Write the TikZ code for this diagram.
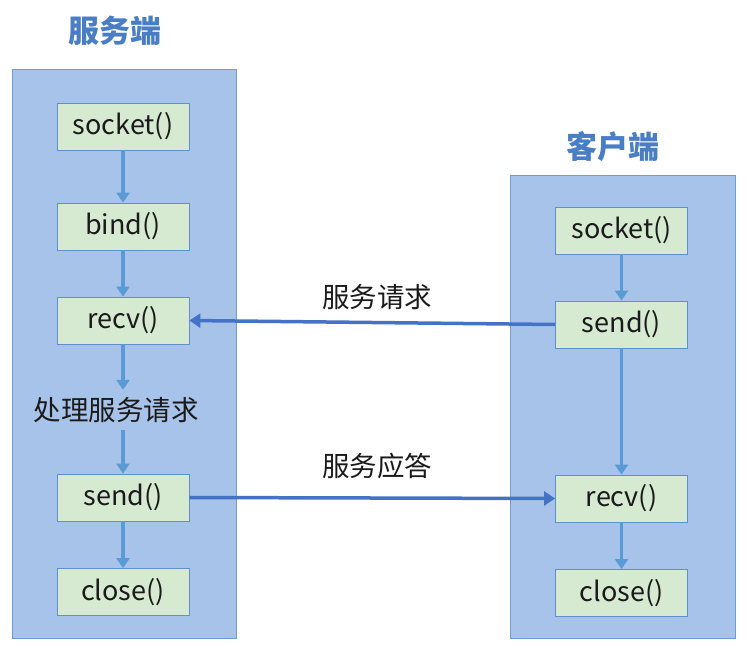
\documentclass[tikz,border=0pt]{standalone}
\usepackage{fontspec}
\setmainfont{Noto Sans CJK SC}
\usetikzlibrary{arrows.meta}
\definecolor{panelfill}{HTML}{A8C3EA}
\definecolor{paneldraw}{HTML}{6E9DD6}
\definecolor{boxfill}{HTML}{D6EAD2}
\definecolor{boxdraw}{HTML}{5E8FD0}
\definecolor{vline}{HTML}{5B9BD5}
\definecolor{hline}{HTML}{4472C4}
\definecolor{titlecol}{HTML}{4A7EC4}
\definecolor{txt}{HTML}{1A1A1A}
\tikzset{
  panel/.style={draw=paneldraw, fill=panelfill, line width=0.8pt},
  fn/.style={draw=boxdraw, fill=boxfill, line width=0.8pt, minimum width=132pt, minimum height=47pt, inner sep=0pt, font=\fontsize{27}{29}\selectfont, text=txt},
  title/.style={font=\fontsize{31}{33}\selectfont\bfseries, text=titlecol},
  lbl/.style={font=\fontsize{27.5}{29}\selectfont, text=txt},
  varrow/.style={draw=vline, line width=3.2pt, -{Triangle[length=10pt,width=13pt]}},
  harrow/.style={draw=hline, line width=3.5pt, -{Triangle[length=11pt,width=14pt]}}
}
\begin{document}
\begin{tikzpicture}[x=1pt,y=-1pt]
\useasboundingbox (0,0) rectangle (746,647);
\fill[white] (0,0) rectangle (746,647);
% panels
\node[panel, minimum width=224pt, minimum height=569pt, anchor=north west, inner sep=0pt] (spanel) at (12,69) {};
\node[panel, minimum width=225pt, minimum height=463pt, anchor=north west, inner sep=0pt] (cpanel) at (510,175) {};
\node[title] (stitle) at (115,31) {服务端};
\node[title] (ctitle) at (613,147) {客户端};
% server
\node[fn] (ssock) at (123,126.5) {socket()};
\node[fn] (sbind) at (123,226.5) {bind()};
\node[fn] (srecv) at (123,320.5) {recv()};
\node[lbl, inner sep=0pt, minimum height=40pt] (sproc) at (116,410) {处理服务请求};
\node[fn] (ssend) at (123,497.5) {send()};
\node[fn] (sclose) at (123,592) {close()};
% client
\node[fn] (csock) at (621.5,230.5) {socket()};
\node[fn] (csend) at (621.5,324.5) {send()};
\node[fn] (crecv) at (621.5,498.5) {recv()};
\node[fn] (cclose) at (621.5,593) {close()};
% vertical arrows
\draw[varrow] (ssock.south) -- (sbind.north);
\draw[varrow] (sbind.south) -- (srecv.north);
\draw[varrow] (srecv.south) -- (srecv.south |- sproc.north);
\draw[varrow] (ssend.north |- sproc.south) -- (ssend.north);
\draw[varrow] (ssend.south) -- (sclose.north);
\draw[varrow] (csock.south) -- (csend.north);
\draw[varrow] (csend.south) -- (crecv.north);
\draw[varrow] (crecv.south) -- (cclose.north);
% horizontal arrows
\node[lbl] (lreq) at (377,297) {服务请求};
\node[lbl] (lresp) at (377,466) {服务应答};
\draw[harrow] (csend.west) -- (srecv.east);
\draw[harrow] (ssend.east) -- (crecv.west);
\end{tikzpicture}
\end{document}
